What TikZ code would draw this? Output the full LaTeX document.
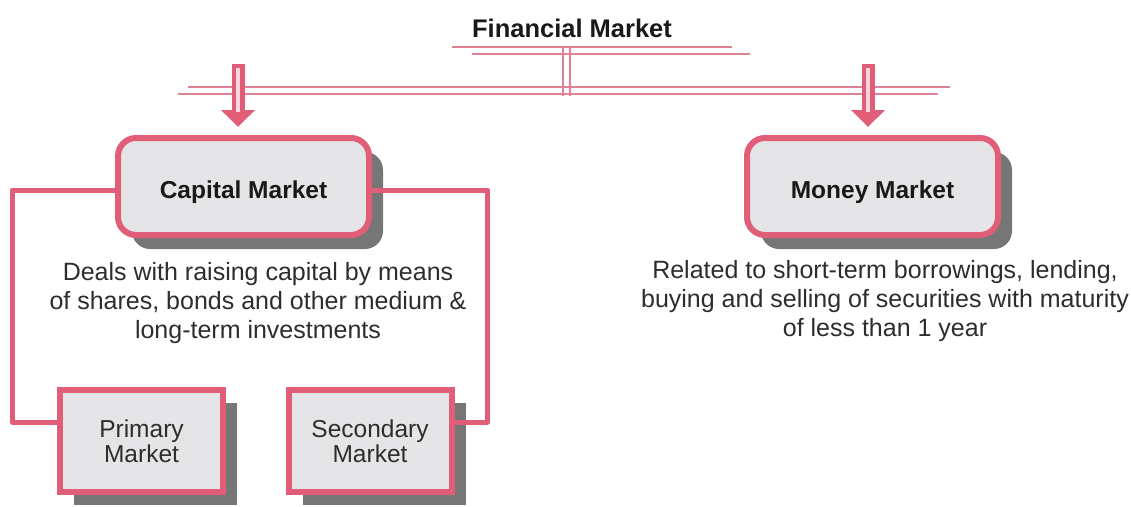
\documentclass[tikz,border=0pt]{standalone}
\usepackage{fontspec}
\setmainfont{Liberation Sans}
\usetikzlibrary{arrows.meta,shadows}
\definecolor{pk}{RGB}{224,94,120}
\definecolor{pkthin}{RGB}{222,130,150}
\definecolor{pklight}{RGB}{250,214,222}
\definecolor{boxgray}{RGB}{229,229,231}
\definecolor{shgray}{RGB}{118,118,118}
\definecolor{txt}{RGB}{45,45,45}
\begin{document}
\begin{tikzpicture}[x=1pt,y=-1pt,
  mainbox/.style={draw=pk, line width=6pt, fill=boxgray, rounded corners=18pt, minimum width=251pt, minimum height=97pt, inner sep=0pt, text height=28pt, text depth=5pt, font=\bfseries\fontsize{24.5}{28}\selectfont, text=black!90, drop shadow={shadow xshift=14pt, shadow yshift=-14pt, fill=shgray, opacity=1}},
  subbox/.style={draw=pk, line width=6pt, fill=boxgray, minimum width=163pt, minimum height=102pt, inner sep=0pt, align=center, font=\fontsize{24.5}{25}\selectfont, text=txt, drop shadow={shadow xshift=14pt, shadow yshift=-13pt, fill=shgray, opacity=1}},
  desc/.style={align=center, inner sep=0pt, anchor=north, font=\fontsize{25}{29}\selectfont, text=txt},
  conn/.style={draw=pk, line width=5pt, line join=round},
  thinline/.style={draw=pkthin, line width=1.6pt},
  bigarrow/.style={draw=pk, line width=13pt, -{Triangle[width=33pt,length=17pt]}},
]
\useasboundingbox (0,0) rectangle (1131,506);

\node[font=\bfseries\fontsize{25.5}{30}\selectfont, anchor=base, inner sep=0pt, text=black!90] (fm) at (572,37) {Financial Market};

\draw[thinline] (452,47) -- (732,47);
\draw[thinline] (472,54) -- (750,54);
\draw[thinline] (563,47) -- (563,96);
\draw[thinline] (570,47) -- (570,96);
\draw[thinline] (188,87) -- (950,87);
\draw[thinline] (178,94) -- (938,94);

\node[mainbox] (cap) at (243.5,186.5) {Capital Market};
\node[mainbox] (mon) at (872.5,186.5) {Money Market};
\node[subbox] (prim) at (141.5,441) {Primary\\Market};
\node[subbox] (sec) at (370,441) {Secondary\\Market};

\node[desc] (capd) at (258,262) {Deals with raising capital by means\\of shares, bonds and other medium \&\\long-term investments};
\node[desc] (mond) at (885,260) {Related to short-term borrowings, lending,\\buying and selling of securities with maturity\\of less than 1 year};

\coordinate (la) at (238,64);
\coordinate (ra) at (868,64);
\draw[bigarrow, shorten >=8pt] (la) -- (la |- cap.north);
\draw[bigarrow, shorten >=8pt] (ra) -- (ra |- mon.north);
\draw[pklight, line width=3.5pt] ([yshift=-4pt]la) -- ++(0,44);
\draw[pklight, line width=3.5pt] ([yshift=-4pt]ra) -- ++(0,44);

\draw[conn] ([yshift=-3.5pt]cap.west) -| ([xshift=-45pt,yshift=19pt]prim.west) -- ([yshift=19pt]prim.west);
\draw[conn] ([yshift=-3.5pt]cap.east) -| ([xshift=33pt,yshift=19pt]sec.east) -- ([yshift=19pt]sec.east);
\end{tikzpicture}
\end{document}
